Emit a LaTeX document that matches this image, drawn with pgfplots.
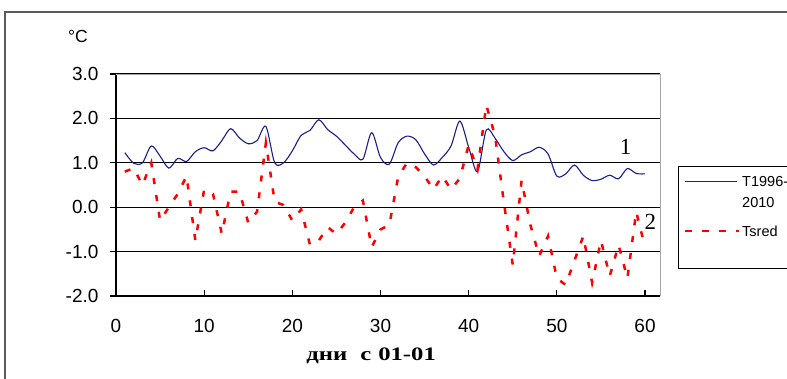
\documentclass[border=0pt]{standalone}
\usepackage{pgfplots}
\pgfplotsset{compat=1.18}
\usepackage{fontspec}
\setmainfont{Liberation Sans}
\newfontfamily\seriffont{Liberation Serif}
\newfontfamily\labelfont{Liberation Serif}[FakeStretch=1.3]
\definecolor{navyline}{RGB}{25,30,140}
\begin{document}
\begin{tikzpicture}[x=1pt,y=1pt]
\useasboundingbox (0,0) rectangle (787,378);
\draw[line width=1.5pt, black!65] (5,-20) -- (5,366) -- (800,366);
\begin{axis}[
  at={(116pt,82pt)}, anchor=south west,
  scale only axis, width=544pt, height=222pt,
  xmin=0, xmax=61.7, ymin=-2, ymax=3,
  axis x line*=bottom, axis y line*=left,
  axis line style={black, line width=1.2pt},
  xtick={0,10,...,60}, ytick={-2,-1,0,1,2,3},
  xtick align=inside, ytick align=outside,
  major tick length=6pt,
  tick style={black, line width=1.2pt},
  ymajorgrids, grid style={black, line width=1.2pt},
  /pgf/number format/assume math mode=true,
  yticklabel style={/pgf/number format/fixed, /pgf/number format/fixed zerofill, /pgf/number format/precision=1, xshift=-8pt},
  tick label style={font=\fontsize{19}{22}\selectfont},
  xticklabel style={yshift=-20pt},
  xlabel={дни\hspace{13pt}с\hspace{7pt}01-01},
  xlabel style={font=\labelfont\bfseries\fontsize{19}{22}\selectfont, at={(axis description cs:0.469,-0.27)}, anchor=center},
  ylabel={°C},
  ylabel style={rotate=-90, font=\fontsize{17.5}{20}\selectfont, at={(axis description cs:-0.07,1.171)}, anchor=center},
  clip=false,
]
\draw[gray!70, line width=1pt] (rel axis cs:0,1) -- (rel axis cs:1,1) -- (rel axis cs:1,0);
\addplot[color=navyline, line width=1.1pt, smooth, tension=0.5] coordinates {
(1,1.23) (2,0.99) (3,1.0) (4,1.38) (5,1.15) (6,0.88) (7,1.1) (8,1.03) (9,1.25) (10,1.34)
(11,1.27) (12,1.5) (13,1.77) (14,1.56) (15,1.43) (16,1.5) (17,1.82) (18,1.0) (19,1.0) (20,1.27)
(21,1.62) (22,1.73) (23,1.97) (24,1.75) (25,1.6) (26,1.4) (27,1.2) (28,1.08) (29,1.68) (30,1.12)
(31,0.97) (32,1.45) (33,1.6) (34,1.52) (35,1.2) (36,0.95) (37,1.12) (38,1.38) (39,1.94) (40,1.35)
(41,0.8) (42,1.74) (43,1.55) (44,1.25) (45,1.05) (46,1.18) (47,1.25) (48,1.35) (49,1.2) (50,0.7)
(51,0.75) (52,0.95) (53,0.72) (54,0.6) (55,0.63) (56,0.72) (57,0.64) (58,0.87) (59,0.76) (60,0.75)
};
\addplot[color=red, line width=2.5pt, dash pattern=on 6pt off 11pt] coordinates {
(1,0.8) (2,0.88) (3,0.5) (4,1.0) (5,-0.3) (6,0.0) (7,0.3) (8,0.7) (9,-0.75) (10,0.4)
(11,0.3) (12,-0.6) (13,0.35) (14,0.35) (15,-0.35) (16,-0.1) (17,1.45) (18,0.12) (19,0.05) (20,-0.3)
(21,-0.05) (22,-0.85) (23,-0.75) (24,-0.45) (25,-0.6) (26,-0.35) (27,0.0) (28,0.15) (29,-0.9) (30,-0.5)
(31,-0.4) (32,0.68) (33,1.0) (34,0.9) (35,0.7) (36,0.4) (37,0.7) (38,0.4) (39,0.65) (40,1.4)
(41,0.85) (42,2.3) (43,1.6) (44,0.1) (45,-1.3) (46,0.6) (47,-0.4) (48,-1.1) (49,-0.65) (50,-1.6)
(51,-1.75) (52,-1.2) (53,-0.65) (54,-1.7) (55,-0.75) (56,-1.55) (57,-0.85) (58,-1.6) (59,-0.1) (60,-0.9)
};
\node[font=\seriffont\fontsize{23}{25}\selectfont] at (axis cs:57.8,1.36) {1};
\node[font=\seriffont\fontsize{23}{25}\selectfont] at (axis cs:60.6,-0.32) {2};
\end{axis}
% legend
\draw[black, line width=1pt] (678,211) rectangle (800,110);
\draw[navyline, line width=1.2pt] (685,196.3) -- (737,196.3);
\draw[red, line width=2.5pt, dash pattern=on 7pt off 10pt] (685,147) -- (739,147);
\node[anchor=west, inner sep=0pt, font=\fontsize{14.5}{21}\selectfont, align=left] at (742,186) {T1996-\\2010};
\node[anchor=west, inner sep=0pt, font=\fontsize{14.5}{21}\selectfont] at (742,147) {Tsred};
\end{tikzpicture}
\end{document}
